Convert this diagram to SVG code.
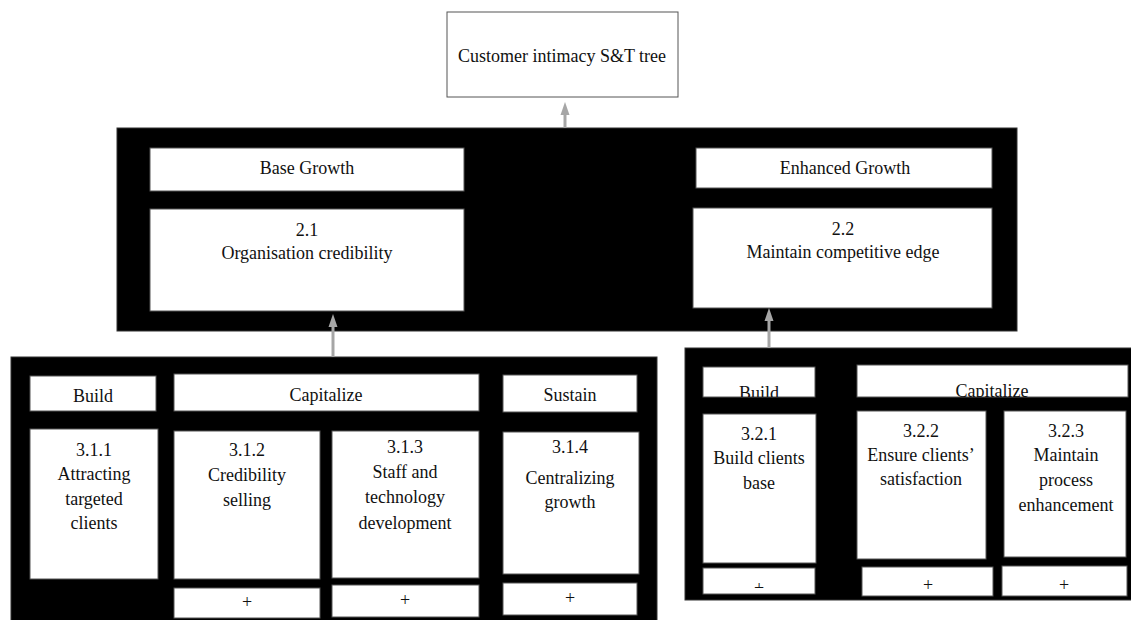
<svg xmlns="http://www.w3.org/2000/svg" width="1131" height="620" viewBox="0 0 1131 620" font-family="Liberation Serif, Times New Roman, DejaVu Serif, serif">
<style>
.bg{fill:#000;stroke:#333;stroke-width:1}
.bx{fill:#fff;stroke:#555;stroke-width:1}
text{font-size:18px;fill:#111;text-anchor:middle}
.c{stroke:#a6a6a6;stroke-width:3;fill:none}
.h{fill:#a6a6a6}
</style>
<defs>
<clipPath id="clipB"><rect x="703" y="367" width="112" height="30"/></clipPath>
<clipPath id="clipC"><rect x="857" y="365" width="271" height="32"/></clipPath>
<clipPath id="clipP"><rect x="703" y="568" width="112" height="20"/></clipPath>
</defs>
<rect width="1131" height="620" fill="#fff"/>

<g id="root">
<rect class="bx" x="447" y="12" width="231" height="85"/>
<text x="562" y="62">Customer intimacy S&amp;T tree</text>
</g>

<g id="level2">
<rect class="bg" x="117" y="128" width="900" height="203"/>
<g id="base-growth">
<rect class="bx" x="150" y="148" width="314" height="43"/>
<text x="307" y="174">Base Growth</text>
</g>
<g id="n2-1">
<rect class="bx" x="150" y="209" width="314" height="102"/>
<text x="307" y="236">2.1</text>
<text x="307" y="259">Organisation credibility</text>
</g>
<g id="enhanced-growth">
<rect class="bx" x="696" y="148" width="296" height="40"/>
<text x="845" y="174">Enhanced Growth</text>
</g>
<g id="n2-2">
<rect class="bx" x="693" y="208" width="299" height="100"/>
<text x="843" y="235">2.2</text>
<text x="843" y="258">Maintain competitive edge</text>
</g>
</g>

<g id="level3-left">
<rect class="bg" x="11" y="357" width="646" height="270"/>
<g id="build-l">
<rect class="bx" x="30" y="376" width="126" height="35"/>
<text x="93" y="402">Build</text>
</g>
<g id="capitalize-l">
<rect class="bx" x="174" y="374" width="305" height="37"/>
<text x="326" y="401">Capitalize</text>
</g>
<g id="sustain-l">
<rect class="bx" x="503" y="375" width="134" height="37"/>
<text x="570" y="401">Sustain</text>
</g>
<g id="n3-1-1">
<rect class="bx" x="30" y="429" width="128" height="150"/>
<text x="94" y="456">3.1.1</text>
<text x="94" y="480">Attracting</text>
<text x="94" y="505">targeted</text>
<text x="94" y="529">clients</text>
</g>
<g id="n3-1-2">
<rect class="bx" x="174" y="431" width="146" height="148"/>
<text x="247" y="456">3.1.2</text>
<text x="247" y="481">Credibility</text>
<text x="247" y="506">selling</text>
</g>
<g id="n3-1-3">
<rect class="bx" x="332" y="431" width="147" height="147"/>
<text x="405" y="453">3.1.3</text>
<text x="405" y="478">Staff and</text>
<text x="405" y="503">technology</text>
<text x="405" y="529">development</text>
</g>
<g id="n3-1-4">
<rect class="bx" x="503" y="432" width="136" height="142"/>
<text x="570" y="453">3.1.4</text>
<text x="570" y="484">Centralizing</text>
<text x="570" y="508">growth</text>
</g>
<g id="plus-3-1-2">
<rect class="bx" x="174" y="588" width="146" height="30"/>
<text x="247" y="608">+</text>
</g>
<g id="plus-3-1-3">
<rect class="bx" x="332" y="585" width="147" height="32"/>
<text x="405" y="606">+</text>
</g>
<g id="plus-3-1-4">
<rect class="bx" x="503" y="583" width="134" height="32"/>
<text x="570" y="604">+</text>
</g>
</g>

<g id="level3-right">
<rect class="bg" x="685" y="348" width="450" height="252"/>
<g id="build-r">
<rect class="bx" x="703" y="367" width="112" height="30"/>
<text x="759" y="399" clip-path="url(#clipB)">Build</text>
</g>
<g id="capitalize-r">
<rect class="bx" x="857" y="365" width="271" height="32"/>
<text x="992" y="397" clip-path="url(#clipC)">Capitalize</text>
</g>
<g id="n3-2-1">
<rect class="bx" x="703" y="414" width="113" height="149"/>
<text x="759" y="440">3.2.1</text>
<text x="759" y="464">Build clients</text>
<text x="759" y="489">base</text>
</g>
<g id="n3-2-2">
<rect class="bx" x="857" y="411" width="129" height="148"/>
<text x="921" y="437">3.2.2</text>
<text x="921" y="461">Ensure clients’</text>
<text x="921" y="485">satisfaction</text>
</g>
<g id="n3-2-3">
<rect class="bx" x="1004" y="411" width="122" height="146"/>
<text x="1066" y="437">3.2.3</text>
<text x="1066" y="461">Maintain</text>
<text x="1066" y="486">process</text>
<text x="1066" y="511">enhancement</text>
</g>
<g id="plus-3-2-1">
<rect class="bx" x="703" y="568" width="112" height="26"/>
<text x="759" y="594" clip-path="url(#clipP)">+</text>
</g>
<g id="plus-3-2-2">
<rect class="bx" x="862" y="567" width="131" height="29"/>
<text x="928" y="591">+</text>
</g>
<g id="plus-3-2-3">
<rect class="bx" x="1002" y="566" width="125" height="30"/>
<text x="1064" y="591">+</text>
</g>
</g>

<g id="connectors">
<line class="c" x1="565" y1="128" x2="565" y2="112"/>
<polygon class="h" points="565,102 560.5,115 569.5,115"/>
<line class="c" x1="333" y1="357" x2="333" y2="325"/>
<polygon class="h" points="333,314 328.5,327 337.5,327"/>
<line class="c" x1="769" y1="348" x2="769" y2="319"/>
<polygon class="h" points="769,308 764.5,321 773.5,321"/>
</g>
</svg>
